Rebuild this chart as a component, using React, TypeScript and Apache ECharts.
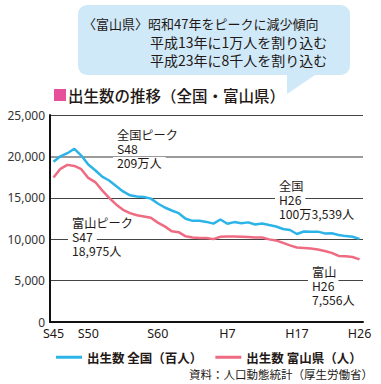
import React, { useEffect, useRef } from 'react';
import * as echarts from 'echarts';

const years: string[] = [
  '1970', '1971', '1972', '1973', '1974', '1975', '1976', '1977', '1978', '1979',
  '1980', '1981', '1982', '1983', '1984', '1985', '1986', '1987', '1988', '1989',
  '1990', '1991', '1992', '1993', '1994', '1995', '1996', '1997', '1998', '1999',
  '2000', '2001', '2002', '2003', '2004', '2005', '2006', '2007', '2008', '2009',
  '2010', '2011', '2012', '2013', '2014',
];

// 出生数 全国（百人）
const nationalHundreds: number[] = [
  19342, 20010, 20387, 20920, 20100, 19014, 18326, 17551, 17086, 16426,
  15769, 15295, 15154, 15087, 14898, 14316, 13829, 13467, 13140, 12468,
  12216, 12232, 12090, 11883, 12383, 11871, 12066, 11917, 12031, 11777,
  11905, 11707, 11539, 11236, 11107, 10625, 10927, 10898, 10912, 10700,
  10713, 10508, 10372, 10298, 10035,
];

// 出生数 富山県（人）
const toyama: number[] = [
  17450, 18500, 18975, 18850, 18450, 17400, 16900, 15900, 15000, 14200,
  13550, 13150, 12900, 12750, 12600, 12000, 11550, 10950, 10850, 10350,
  10200, 10150, 10150, 10010, 10300, 10330, 10330, 10300, 10260, 10200,
  10200, 9980, 9850, 9550, 9250, 9000, 8950, 8870, 8760, 8580,
  8350, 7980, 7950, 7850, 7556,
];

const xTickYears: string[] = ['1970', '1975', '1985', '1995', '2005', '2014'];
const xTickLabels: string[] = ['S45', 'S50', 'S60', 'H7', 'H17', 'H26'];

const yMin = 0;
const yMax = 25000;
const yInterval = 5000;

const seriesNames: string[] = ['出生数 全国（百人）', '出生数 富山県（人）'];

const bubbleLines: string[] = [
  '〈富山県〉昭和47年をピークに減少傾向',
  '平成13年に1万人を割り込む',
  '平成23年に8千人を割り込む',
];
const titleText = '出生数の推移（全国・富山県）';
const sourceText = '資料：人口動態統計（厚生労働省）';

const notes: string[][] = [
  ['全国ピーク', 'S48', '209万人'],
  ['全国', 'H26', '100万3,539人'],
  ['富山ピーク', 'S47', '18,975人'],
  ['富山', 'H26', '7,556人'],
];

const DARK = '#231815';
const CJK = '"Noto Sans CJK JP", "Noto Sans", sans-serif';

export default function App() {
  const ref = useRef<HTMLDivElement>(null);

  useEffect(() => {
    if (!ref.current) return;
    document.body.style.margin = '0';
    const chart = echarts.init(ref.current, undefined, { renderer: 'svg' });

    // top-left of each note block (first line's middle y)
    const notePos = [
      [113, 135],
      [275, 185.5],
      [68, 223],
      [308, 271.5],
    ];
    const noteTexts: any[] = notes.map((lines, i) => ({
      type: 'text',
      z: 10,
      x: notePos[i][0],
      y: notePos[i][1] - 7,
      style: {
        text: lines.map((l) => `{b|${l}}`).join('\n'),
        fill: DARK,
        font: `12.2px ${CJK}`,
        textAlign: 'left',
        textVerticalAlign: 'top',
        rich: {
          b: {
            fill: DARK,
            fontSize: 12.2,
            fontFamily: CJK,
            lineHeight: 14,
            backgroundColor: '#ffffff',
            padding: [0, 4],
          },
        },
      },
    }));

    const yColorsMain = ['#444', '#444', '#444', '#444', 'transparent', '#444'];
    const yColorsPeak = ['transparent', 'transparent', 'transparent', 'transparent', '#9a9a9a', 'transparent'];

    chart.setOption({
      animation: false,
      grid: { left: 50, right: 18, top: 115, bottom: 62, containLabel: false },
      legend: {
        left: 51,
        top: 346,
        icon: 'rect',
        itemWidth: 26,
        itemHeight: 3,
        itemGap: 13,
        data: seriesNames,
        textStyle: { color: DARK, fontSize: 12.5, fontWeight: 'bold', fontFamily: CJK },
      },
      xAxis: {
        type: 'category',
        data: years,
        boundaryGap: true,
        axisLine: { show: true, lineStyle: { color: '#111', width: 2 } },
        axisTick: { show: false },
        axisLabel: {
          interval: (index: number, value: string) => xTickYears.includes(value),
          formatter: (value: string) => {
            const k = xTickYears.indexOf(value);
            return k >= 0 ? xTickLabels[k] : '';
          },
          color: DARK,
          fontSize: 12.5,
          fontFamily: '"Noto Sans", sans-serif',
          margin: 5,
        },
        splitLine: { show: false },
      },
      yAxis: [
        {
          type: 'value',
          min: yMin,
          max: yMax,
          interval: yInterval,
          axisLine: { show: true, lineStyle: { color: '#111', width: 2 } },
          axisTick: { show: false },
          axisLabel: {
            color: '#333',
            fontSize: 12,
            fontFamily: '"Noto Sans", sans-serif',
            margin: 5,
            formatter: (v: number) => v.toLocaleString('en-US'),
          },
          splitLine: { show: true, lineStyle: { color: yColorsMain, width: 1 } },
        },
        {
          type: 'value',
          min: yMin,
          max: yMax,
          interval: yInterval,
          position: 'left',
          axisLine: { show: false },
          axisTick: { show: false },
          axisLabel: { show: false },
          splitLine: { show: true, lineStyle: { color: yColorsPeak, width: 2 } },
        },
      ],
      series: [
        {
          name: seriesNames[0],
          type: 'line',
          data: nationalHundreds,
          showSymbol: false,
          symbol: 'none',
          lineStyle: { color: '#2cb4e8', width: 2.5 },
          itemStyle: { color: '#2cb4e8' },
          z: 3,
        },
        {
          name: seriesNames[1],
          type: 'line',
          data: toyama,
          showSymbol: false,
          symbol: 'none',
          lineStyle: { color: '#ee6b82', width: 2.5 },
          itemStyle: { color: '#ee6b82' },
          z: 3,
        },
      ],
      graphic: [
        {
          type: 'rect',
          z: 5,
          shape: { x: 78, y: 5, width: 272, height: 70, r: 9 },
          style: { fill: '#cfe9f8' },
        },
        {
          type: 'polygon',
          z: 5,
          shape: { points: [[287, 73], [318, 73], [287, 94]] },
          style: { fill: '#cfe9f8' },
        },
        {
          type: 'text',
          z: 6,
          x: 83,
          y: 23,
          style: { text: bubbleLines[0], fill: DARK, font: `13px ${CJK}`, textVerticalAlign: 'middle' },
        },
        {
          type: 'text',
          z: 6,
          x: 150,
          y: 42,
          style: { text: bubbleLines[1], fill: DARK, font: `14px ${CJK}`, textVerticalAlign: 'middle' },
        },
        {
          type: 'text',
          z: 6,
          x: 150,
          y: 60,
          style: { text: bubbleLines[2], fill: DARK, font: `14px ${CJK}`, textVerticalAlign: 'middle' },
        },
        {
          type: 'rect',
          z: 6,
          shape: { x: 54, y: 89, width: 12, height: 12 },
          style: { fill: '#e6509b' },
        },
        {
          type: 'text',
          z: 6,
          x: 68,
          y: 95,
          style: { text: titleText, fill: DARK, font: `500 15.5px ${CJK}`, textVerticalAlign: 'middle' },
        },
        {
          type: 'text',
          z: 6,
          x: 373,
          y: 374,
          style: { text: sourceText, fill: DARK, font: `11.5px ${CJK}`, textAlign: 'right', textVerticalAlign: 'middle' },
        },
        ...noteTexts,
      ],
    });

    return () => chart.dispose();
  }, []);

  return <div ref={ref} style={{ width: 381, height: 384 }} />;
}
